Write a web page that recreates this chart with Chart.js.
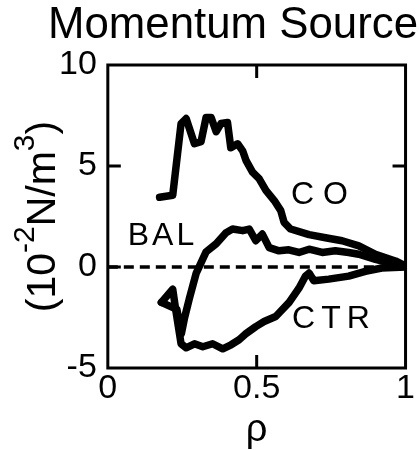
<!DOCTYPE html>
<html>
<head>
<meta charset="utf-8">
<title>Momentum Source</title>
<script src="https://cdn.jsdelivr.net/npm/chart.js@4.4.0/dist/chart.umd.min.js"></script>
<style>
  html, body { margin: 0; padding: 0; background: #fff; }
  #wrap { width: 419px; height: 450px; }
</style>
</head>
<body>
<div id="wrap"><canvas id="momentumChart" width="419" height="450"></canvas></div>
<script>
// normalized radius and momentum source (10^-2 N/m^3) for each beam mix
const rhoCO = [0.174, 0.218, 0.246, 0.263, 0.291, 0.313, 0.330, 0.347, 0.364, 0.380, 0.402, 0.413, 0.436, 0.453,
  0.464, 0.486, 0.508, 0.531, 0.559, 0.581, 0.592, 0.614, 0.676, 0.731, 0.787, 0.843, 0.899, 0.966, 1.0];
const momCO = [3.45, 3.55, 7.1, 7.35, 6.1, 6.2, 7.4, 7.4, 6.7, 7.1, 7.15, 5.9, 6.1, 5.75,
  5.28, 4.7, 4.37, 3.79, 3.29, 2.79, 2.21, 1.88, 1.6, 1.45, 1.3, 1.05, 0.63, 0.3, 0.05];

const rhoBAL = [0.180, 0.232, 0.247, 0.258, 0.274, 0.297, 0.330, 0.364, 0.397, 0.419, 0.453, 0.475, 0.497, 0.519,
  0.542, 0.575, 0.608, 0.642, 0.676, 0.720, 0.764, 0.809, 0.843, 0.899, 0.966, 1.0];
const momBAL = [-1.75, -2.1, -3.3, -2.5, -1.55, -0.3, 0.75, 1.15, 1.7, 1.88, 1.8, 1.88, 1.3, 1.63,
  0.96, 0.8, 0.85, 0.72, 0.88, 0.72, 0.8, 0.72, 0.63, 0.38, 0.13, 0.03];

const rhoCTR = [0.180, 0.218, 0.230, 0.246, 0.263, 0.291, 0.319, 0.352, 0.386, 0.414, 0.441, 0.464, 0.497, 0.525,
  0.564, 0.609, 0.642, 0.664, 0.676, 0.692, 0.742, 0.809, 0.865, 0.920, 1.0];
const momCTR = [-1.75, -1.1, -2.3, -3.8, -4.0, -3.8, -3.95, -3.8, -4.05, -3.85, -3.6, -3.3, -2.95, -2.7,
  -2.45, -1.75, -1.05, -0.45, -0.3, -0.68, -0.6, -0.45, -0.22, -0.05, 0.0];

// zero reference line
const rhoZero = [0, 1];
const momZero = [0, 0];

const xTickValues = [0, 0.5, 1];
const yTickValues = [-5, 0, 5, 10];
const xInnerTicks = [0.5];
const yInnerTicks = [0, 5];

const curveNames = ['CO', 'BAL', 'CTR'];
const curveNameRho = [0.615, 0.067, 0.619];
const curveNameMom = [3.14, 1.1, -3.04];

// unit label pieces: [text, superscript?]
const unitParts = [['(10', false], ['-2', true], ['N/m', false], ['3', true], [')', false]];

const FONT = '"Liberation Sans", Arial, Helvetica, sans-serif';

const toPoints = (xs, ys) => xs.map((x, i) => ({ x, y: ys[i] }));

const thickLine = (data) => ({
  data,
  showLine: true,
  borderColor: '#000',
  borderWidth: 7.5,
  borderJoinStyle: 'round',
  borderCapStyle: 'round',
  pointRadius: 0,
  tension: 0,
  fill: false
});

// box around the plot, inward tick marks and the curve names
const framePlugin = {
  id: 'frame',
  afterDatasetsDraw(chart) {
    const { ctx, chartArea: a, scales: { x, y } } = chart;
    const len = 13;
    ctx.save();
    ctx.strokeStyle = '#000';
    ctx.lineWidth = 3;
    ctx.strokeRect(a.left, a.top, a.right - a.left, a.bottom - a.top);

    ctx.beginPath();
    xInnerTicks.forEach(v => {
      const px = x.getPixelForValue(v);
      ctx.moveTo(px, a.top); ctx.lineTo(px, a.top + len);
      ctx.moveTo(px, a.bottom); ctx.lineTo(px, a.bottom - len);
    });
    yInnerTicks.forEach(v => {
      const py = y.getPixelForValue(v);
      ctx.moveTo(a.left, py); ctx.lineTo(a.left + len, py);
      ctx.moveTo(a.right, py); ctx.lineTo(a.right - len, py);
    });
    ctx.stroke();

    ctx.fillStyle = '#000';
    ctx.font = `32px ${FONT}`;
    ctx.textAlign = 'left';
    ctx.textBaseline = 'alphabetic';
    const spacing = { CO: '9px', BAL: '3px', CTR: '6px' };
    curveNames.forEach((name, i) => {
      ctx.letterSpacing = spacing[name];
      ctx.fillText(name, x.getPixelForValue(curveNameRho[i]), y.getPixelForValue(curveNameMom[i]));
    });
    ctx.restore();
  }
};

// rotated y-axis unit with real superscripts
const unitPlugin = {
  id: 'unitTitle',
  afterDraw(chart) {
    const { ctx, chartArea: a } = chart;
    const normal = `41px ${FONT}`;
    const small = `30px ${FONT}`;
    ctx.save();
    ctx.fillStyle = '#000';
    ctx.textBaseline = 'alphabetic';
    ctx.textAlign = 'left';
    let total = 0;
    const widths = unitParts.map(([t, sup]) => {
      ctx.font = sup ? small : normal;
      const w = ctx.measureText(t).width;
      total += w;
      return w;
    });
    ctx.translate(55, (a.top + a.bottom) / 2);
    ctx.rotate(-Math.PI / 2);
    let cx = -total / 2;
    unitParts.forEach(([t, sup], i) => {
      ctx.font = sup ? small : normal;
      ctx.fillText(t, cx, sup ? -21 : 0);
      cx += widths[i];
    });
    ctx.restore();
  }
};

const ctx = document.getElementById('momentumChart').getContext('2d');

new Chart(ctx, {
  type: 'scatter',
  data: {
    datasets: [
      {
        data: toPoints(rhoZero, momZero),
        showLine: true,
        borderColor: '#000',
        borderWidth: 3.5,
        borderDash: [10, 6],
        pointRadius: 0,
        fill: false
      },
      thickLine(toPoints(rhoCO, momCO)),
      thickLine(toPoints(rhoBAL, momBAL)),
      thickLine(toPoints(rhoCTR, momCTR))
    ]
  },
  options: {
    responsive: false,
    animation: false,
    layout: { padding: { top: 4, right: 1, bottom: 0, left: 48 } },
    plugins: {
      legend: { display: false },
      tooltip: { enabled: false },
      title: {
        display: true,
        text: 'Momentum Source',
        align: 'end',
        color: '#000',
        font: { family: FONT, size: 44, weight: 'normal', lineHeight: 1 },
        padding: { top: 0, bottom: 17 }
      }
    },
    scales: {
      x: {
        type: 'linear',
        min: 0,
        max: 1,
        grid: { display: false, drawTicks: false },
        border: { display: false },
        afterBuildTicks: s => { s.ticks = xTickValues.map(v => ({ value: v })); },
        ticks: {
          color: '#000',
          padding: 4,
          maxRotation: 0,
          font: { family: FONT, size: 34, lineHeight: 1 },
          callback: v => String(v)
        },
        title: {
          display: true,
          text: 'ρ',
          color: '#000',
          font: { family: FONT, size: 38, lineHeight: 1 },
          padding: { top: 2, bottom: 0 }
        }
      },
      y: {
        type: 'linear',
        min: -5,
        max: 10,
        grid: { display: false, drawTicks: false },
        border: { display: false },
        afterBuildTicks: s => { s.ticks = yTickValues.map(v => ({ value: v })); },
        ticks: {
          color: '#000',
          padding: 11,
          font: { family: FONT, size: 34, lineHeight: 1 },
          callback: v => String(v)
        }
      }
    }
  },
  plugins: [framePlugin, unitPlugin]
});
</script>
</body>
</html>
